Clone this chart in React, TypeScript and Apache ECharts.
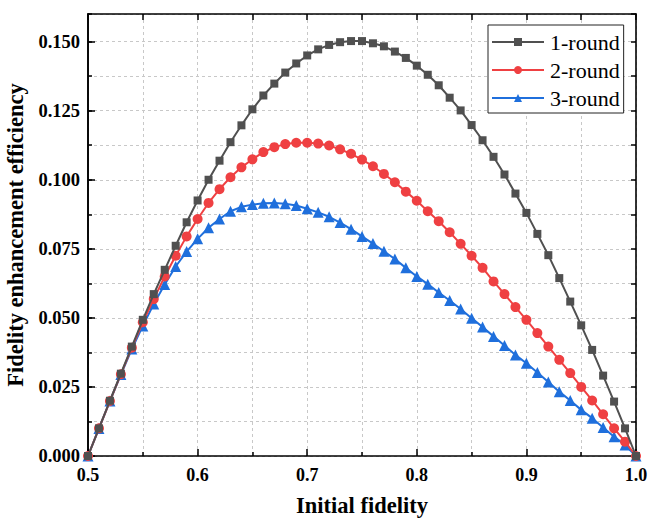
import React, { useEffect, useRef } from "react";
import * as echarts from "echarts";

const initialFidelity = [
  0.5, 0.51, 0.52, 0.53, 0.54, 0.55, 0.56, 0.57, 0.58, 0.59,
  0.6, 0.61, 0.62, 0.63, 0.64, 0.65, 0.66, 0.67, 0.68, 0.69,
  0.7, 0.71, 0.72, 0.73, 0.74, 0.75, 0.76, 0.77, 0.78, 0.79,
  0.8, 0.81, 0.82, 0.83, 0.84, 0.85, 0.86, 0.87, 0.88, 0.89,
  0.9, 0.91, 0.92, 0.93, 0.94, 0.95, 0.96, 0.97, 0.98, 0.99, 1.0,
];

const round1 = [
  0, 0.0100, 0.0200, 0.0298, 0.0396, 0.0493, 0.0586, 0.0674, 0.0761, 0.0846,
  0.0925, 0.1000, 0.1069, 0.1136, 0.1197, 0.1255, 0.1305, 0.1348, 0.1388, 0.1421,
  0.1450, 0.1472, 0.1488, 0.1498, 0.1502, 0.1502, 0.1494, 0.1483, 0.1464, 0.1441,
  0.1413, 0.1380, 0.1342, 0.1297, 0.1251, 0.1198, 0.1143, 0.1083, 0.1019, 0.0950,
  0.0880, 0.0804, 0.0727, 0.0644, 0.0559, 0.0473, 0.0384, 0.0291, 0.0197, 0.0100, 0,
];

const round2 = [
  0, 0.0100, 0.0199, 0.0296, 0.0392, 0.0484, 0.0568, 0.0650, 0.0725, 0.0795,
  0.0858, 0.0916, 0.0966, 0.1009, 0.1045, 0.1074, 0.1100, 0.1118, 0.1129, 0.1134,
  0.1134, 0.1131, 0.1124, 0.1110, 0.1094, 0.1073, 0.1049, 0.1021, 0.0991, 0.0957,
  0.0924, 0.0886, 0.0850, 0.0810, 0.0768, 0.0725, 0.0681, 0.0632, 0.0586, 0.0539,
  0.0493, 0.0445, 0.0396, 0.0348, 0.0300, 0.0250, 0.0201, 0.0151, 0.0100, 0.0052, 0,
];

const round3 = [
  0, 0.0100, 0.0199, 0.0295, 0.0387, 0.0471, 0.0550, 0.0621, 0.0686, 0.0740,
  0.0786, 0.0826, 0.0858, 0.0886, 0.0902, 0.0910, 0.0915, 0.0916, 0.0913, 0.0907,
  0.0895, 0.0882, 0.0866, 0.0845, 0.0821, 0.0795, 0.0769, 0.0741, 0.0713, 0.0681,
  0.0650, 0.0622, 0.0592, 0.0563, 0.0532, 0.0499, 0.0467, 0.0433, 0.0400, 0.0366,
  0.0336, 0.0302, 0.0268, 0.0233, 0.0201, 0.0167, 0.0137, 0.0103, 0.0070, 0.0040, 0,
];

const seriesNames = ["1-round", "2-round", "3-round"];
const seriesColors = ["#505050", "#ef4042", "#1f6fdc"];
const seriesSymbols = ["rect", "circle", "triangle"];
const seriesSizes = [8, 10, 11];
const seriesValues = [round1, round2, round3];

const FONT = "'Liberation Serif', 'Times New Roman', serif";
const GRID_LINE = { show: true, lineStyle: { color: "#c8c8c8", type: [3, 3] as any, width: 1 } };
const AXIS_LINE = { show: true, onZero: false, lineStyle: { color: "#000", width: 1.6 } };

export default function App() {
  const ref = useRef<HTMLDivElement>(null);
  useEffect(() => {
    if (!ref.current) return;
    const chart = echarts.init(ref.current, null, { renderer: "svg" });
    const series = seriesNames.map((name, i) => ({
      name,
      type: "line",
      xAxisIndex: 0,
      yAxisIndex: 0,
      data: initialFidelity.map((x, j) => [x, seriesValues[i][j]]),
      symbol: seriesSymbols[i],
      symbolSize: seriesSizes[i],
      showSymbol: true,
      lineStyle: { color: seriesColors[i], width: 2 },
      itemStyle: { color: seriesColors[i] },
      z: 3 - i + 2,
    }));
    chart.setOption({
      animation: false,
      backgroundColor: "#fff",
      textStyle: { fontFamily: FONT },
      grid: { left: 88, right: 13, top: 14, bottom: 62, containLabel: false, outerBoundsMode: "none" },
      legend: {
        show: true,
        data: seriesNames,
        orient: "vertical",
        left: 488,
        top: 25,
        padding: [6, 4, 4, 3],
        itemWidth: 52,
        itemHeight: 10,
        itemGap: 6,
        borderColor: "#222",
        borderWidth: 1,
        backgroundColor: "#fff",
        textStyle: { fontFamily: FONT, fontSize: 22, color: "#000", lineHeight: 22, padding: [0, 0, 0, 1] },
      },
      xAxis: [
        {
          type: "value",
          position: "bottom",
          min: 0.5,
          max: 1.0,
          interval: 0.1,
          name: "Initial fidelity",
          nameLocation: "middle",
          nameGap: 38,
          nameTextStyle: { fontFamily: FONT, fontSize: 22.5, fontWeight: "bold", color: "#000" },
          axisLine: AXIS_LINE,
          axisTick: { show: true, inside: true, length: 7, lineStyle: { color: "#000", width: 1.5 } },
          minorTick: { show: true, splitNumber: 2, length: 4, lineStyle: { color: "#000", width: 1.5 } },
          splitLine: GRID_LINE,
          minorSplitLine: GRID_LINE,
          axisLabel: {
            margin: 10,
            fontFamily: FONT,
            fontSize: 18,
            fontWeight: "bold",
            color: "#000",
            formatter: (v: number) => v.toFixed(1),
          },
        },
        {
          type: "value",
          position: "top",
          min: 0.5,
          max: 1.0,
          interval: 0.05,
          axisLine: AXIS_LINE,
          axisTick: { show: true, inside: true, length: 6, lineStyle: { color: "#000", width: 1.5 } },
          splitLine: { show: false },
          axisLabel: { show: false },
        },
      ],
      yAxis: [
        {
          type: "value",
          position: "left",
          min: 0,
          max: 0.16,
          interval: 0.025,
          name: "Fidelity enhancement efficiency",
          nameLocation: "middle",
          nameRotate: 90,
          nameGap: 52,
          nameTextStyle: { fontFamily: FONT, fontSize: 22.5, fontWeight: "bold", color: "#000" },
          axisLine: AXIS_LINE,
          axisTick: { show: true, inside: true, length: 7, lineStyle: { color: "#000", width: 1.5 } },
          splitLine: { show: false },
          axisLabel: {
            margin: 8,
            showMaxLabel: false,
            fontFamily: FONT,
            fontSize: 18.5,
            fontWeight: "bold",
            color: "#000",
            formatter: (v: number) => v.toFixed(3),
          },
        },
        {
          type: "value",
          position: "left",
          min: 0,
          max: 0.16,
          interval: 0.0125,
          axisLine: AXIS_LINE,
          axisTick: { show: true, inside: true, length: 4, lineStyle: { color: "#000", width: 1.5 } },
          splitLine: GRID_LINE,
          axisLabel: { show: false },
        },
        {
          type: "value",
          position: "right",
          min: 0,
          max: 0.16,
          interval: 0.0125,
          axisLine: AXIS_LINE,
          axisTick: { show: true, inside: true, length: 5, lineStyle: { color: "#000", width: 1.5 } },
          splitLine: { show: false },
          axisLabel: { show: false },
        },
      ],
      series,
    });
    return () => chart.dispose();
  }, []);
  return (
    <div
      ref={ref}
      style={{ position: "fixed", left: 0, top: 0, width: 649, height: 518, background: "#fff" }}
    />
  );
}
